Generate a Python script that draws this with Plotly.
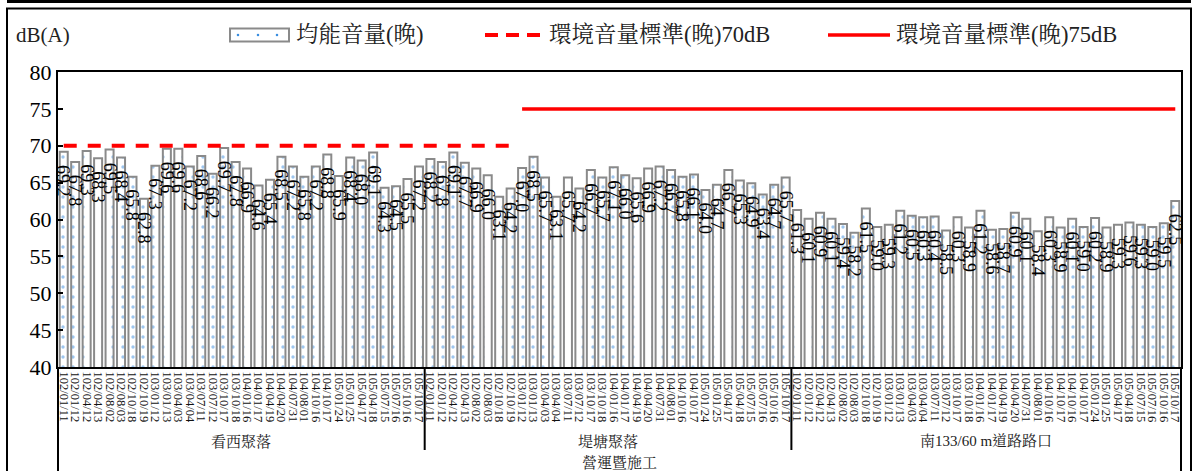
import plotly.graph_objects as go

# ---------------- data ----------------
group_names = ["看西聚落", "堤塘聚落", "南133/60 m道路路口"]
top_category = "營運暨施工"
series_names = ["均能音量(晚)", "環境音量標準(晚)70dB", "環境音量標準(晚)75dB"]
y_title = "dB(A)"

dates_g1 = ["102/01/11", "102/01/12", "102/04/12", "102/04/13", "102/08/02", "102/08/03",
            "102/10/18", "102/10/19", "103/01/12", "103/01/13", "103/04/03", "103/04/04",
            "103/07/11", "103/07/12", "103/10/17", "103/10/18", "104/01/16", "104/01/17",
            "104/04/19", "104/04/20", "104/07/31", "104/08/01", "104/10/16", "104/10/17",
            "105/01/24", "105/01/25", "105/04/17", "105/04/18", "105/07/15", "105/07/16",
            "105/10/16", "105/10/17"]
dates_g2 = list(dates_g1)
dates_g3 = ["102/01/11", "102/01/12", "102/04/12", "102/04/13", "102/08/02", "102/08/03",
            "102/10/18", "102/10/19", "103/01/12", "103/01/13", "103/04/03", "103/04/04",
            "103/07/11", "103/07/12", "103/10/17", "103/10/18", "104/01/16", "104/01/17",
            "104/04/19", "104/04/20", "104/07/31", "104/08/01", "104/10/16", "104/10/17",
            "104/10/16", "104/10/17", "105/01/24", "105/01/25", "105/04/17", "105/04/18",
            "105/07/15", "105/07/16", "105/10/16", "105/10/17"]

values_g1 = [69.2, 67.8, 69.3, 68.3, 69.5, 68.4, 65.8, 62.8, 67.3, 69.6, 69.6, 67.2,
             68.6, 66.2, 69.7, 67.8, 66.9, 64.6, 65.4, 68.5, 67.2, 65.8, 67.2, 68.8,
             65.9, 68.4, 68.0, 69.1, 64.3, 64.5, 65.5, 67.2]
values_g2 = [68.2, 67.8, 69.1, 67.7, 66.9, 66.0, 63.1, 64.2, 67.0, 68.5, 65.7, 63.1,
             65.7, 64.2, 66.7, 65.7, 67.1, 66.0, 65.6, 66.9, 67.2, 66.7, 65.8, 66.1,
             64.0, 64.7, 66.7, 65.3, 64.9, 63.4, 64.7, 65.7]
values_g3 = [61.3, 60.1, 60.9, 60.1, 59.4, 58.2, 61.5, 59.0, 59.3, 61.2, 60.5, 60.3,
             60.4, 58.5, 60.3, 58.9, 61.2, 58.6, 58.7, 60.9, 60.1, 58.4, 60.3, 58.9,
             60.1, 59.0, 60.2, 58.9, 59.3, 59.6, 59.3, 59.0, 59.5, 62.5]

std_70 = 70
std_75 = 75
n_std70 = len(values_g1) + 8   # 70 dB standard applies to the first 40 samplings

# ---------------- derived ----------------
dates = dates_g1 + dates_g2 + dates_g3
values = values_g1 + values_g2 + values_g3
n = len(values)
xs = list(range(n))
line70 = [std_70 if i < n_std70 else None for i in xs]
line75 = [std_75 if i >= n_std70 else None for i in xs]
group_sizes = [len(values_g1), len(values_g2), len(values_g3)]

W, H = 1198, 471
L, R, T, B = 58, 17, 72, 104
PW, PH = W - L - R, H - T - B


def px(xp):
    return (xp - L) / PW


def py(yp):
    return (H - B - yp) / PH


SERIF = "Liberation Serif, 'Noto Serif CJK TC', 'Noto Sans CJK TC', serif"
DOT = "#3b8ee0"

fig = go.Figure()
fig.add_trace(go.Bar(
    x=xs, y=values, name=series_names[0], showlegend=False,
    marker=dict(color="white", line=dict(color="#8a8a8a", width=2),
                pattern=dict(shape=".", fgcolor=DOT, bgcolor="white",
                             size=10, solidity=0.09)),
    hoverinfo="x+y",
))
fig.add_trace(go.Scatter(
    x=xs, y=line70, name=series_names[1], mode="lines", showlegend=False,
    line=dict(color="#ff0000", width=4, dash="13px,11px"), connectgaps=False,
))
fig.add_trace(go.Scatter(
    x=xs, y=line75, name=series_names[2], mode="lines", showlegend=False,
    line=dict(color="#ff0000", width=3.5), connectgaps=False,
))

annotations = []
for i, v in enumerate(values):
    annotations.append(dict(
        x=i, y=v, xref="x", yref="y", text=f"{v:.1f}", textangle=90,
        showarrow=False, xanchor="center", yanchor="top", yshift=-11,
        font=dict(family=SERIF, size=18, color="black"),
    ))

# group labels
start = 0
group_bounds = []
for name, size in zip(group_names, group_sizes):
    annotations.append(dict(
        x=start + (size - 1) / 2, y=py(441), xref="x", yref="paper", text=name,
        showarrow=False, xanchor="center", yanchor="middle",
        font=dict(family=SERIF, size=15, color="#222"),
    ))
    start += size
    group_bounds.append(start - 0.5)
annotations.append(dict(
    x=(n - 1) / 2, y=py(462), xref="x", yref="paper", text=top_category,
    showarrow=False, xanchor="center", yanchor="middle",
    font=dict(family=SERIF, size=15, color="#222"),
))

# y title
annotations.append(dict(
    x=px(14), y=py(35), xref="paper", yref="paper", text=y_title, showarrow=False,
    xanchor="left", yanchor="middle", font=dict(family=SERIF, size=21, color="#222"),
))

# manual legend texts
for xp, txt in [(294, series_names[0]), (547, series_names[1]), (894, series_names[2])]:
    annotations.append(dict(
        x=px(xp), y=py(35), xref="paper", yref="paper", text=txt, showarrow=False,
        xanchor="left", yanchor="middle", font=dict(family=SERIF, size=22.5, color="#222"),
    ))

shapes = []
# outer frame
shapes.append(dict(type="rect", xref="paper", yref="paper", x0=px(7), x1=px(1191),
                   y0=py(480), y1=py(8.5), line=dict(color="black", width=2)))
shapes.append(dict(type="line", xref="paper", yref="paper", x0=px(7), x1=px(1191),
                   y0=py(1.5), y1=py(1.5), line=dict(color="black", width=3)))
# axis extensions down to bottom
for xe in [0, 1]:
    shapes.append(dict(type="line", xref="paper", yref="paper", x0=xe, x1=xe,
                       y0=0, y1=py(475), line=dict(color="black", width=2)))
# group separators
for gb in group_bounds[:-1]:
    shapes.append(dict(type="line", xref="x", yref="paper", x0=gb, x1=gb,
                       y0=0, y1=py(450), line=dict(color="black", width=2)))
# legend swatches
shapes.append(dict(type="rect", xref="paper", yref="paper", x0=px(230), x1=px(289),
                   y0=py(41.5), y1=py(28.5), line=dict(color="#8a8a8a", width=2),
                   fillcolor="white"))
for dx in [238, 258, 277]:
    shapes.append(dict(type="circle", xref="paper", yref="paper", x0=px(dx - 1.3),
                       x1=px(dx + 1.3), y0=py(36.3), y1=py(33.7),
                       fillcolor=DOT, line=dict(width=0)))
shapes.append(dict(type="line", xref="paper", yref="paper", x0=px(485), x1=px(540),
                   y0=py(35), y1=py(35), line=dict(color="#ff0000", width=4, dash="13px,8px")))
shapes.append(dict(type="line", xref="paper", yref="paper", x0=px(828), x1=px(890),
                   y0=py(35), y1=py(35), line=dict(color="#ff0000", width=3.5)))

fig.update_layout(
    width=W, height=H,
    margin=dict(l=L, r=R, t=T, b=B, pad=0, autoexpand=False),
    paper_bgcolor="white", plot_bgcolor="white",
    bargap=0.3, showlegend=False,
    annotations=annotations, shapes=shapes,
    font=dict(family=SERIF, color="black"),
)
fig.update_yaxes(
    automargin=False,
    range=[40, 80], dtick=5, tick0=40, showgrid=False, zeroline=False,
    showline=True, mirror=True, linecolor="black", linewidth=2,
    ticks="inside", ticklen=5, tickwidth=2, tickcolor="black",
    tickfont=dict(family=SERIF, size=22, color="black"),
)
fig.update_xaxes(
    automargin=False,
    range=[-0.5, n - 0.5], tickmode="array", tickvals=xs, ticktext=dates,
    tickangle=90, showgrid=False, zeroline=False,
    showline=True, mirror=True, linecolor="black", linewidth=2, ticks="",
    tickfont=dict(family=SERIF, size=12.5, color="#111"),
)

fig.write_html(
    "out.html",
    config={"displayModeBar": False},
    post_script="document.body.style.margin='0';document.body.style.overflow='hidden';",
)
